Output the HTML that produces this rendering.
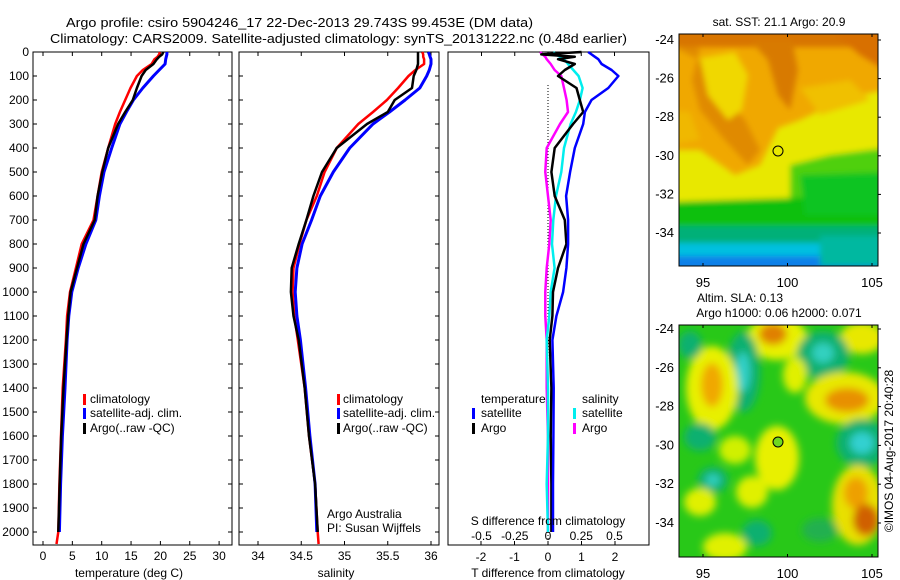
<!DOCTYPE html>
<html><head><meta charset="utf-8">
<style>
html,body{margin:0;padding:0;background:#fff;}
svg{display:block;font-family:"Liberation Sans",sans-serif;}
text{font-size:12px;fill:#000;}
</style></head>
<body>
<svg id="fig" width="900" height="580" viewBox="0 0 900 580" xmlns="http://www.w3.org/2000/svg">
<defs>
<filter id="blur3" x="-20%" y="-20%" width="140%" height="140%"><feGaussianBlur stdDeviation="3"/></filter>
<filter id="blur6" x="-30%" y="-30%" width="160%" height="160%"><feGaussianBlur stdDeviation="4"/></filter>
<clipPath id="clipMap1"><rect x="679" y="34" width="199" height="232"/></clipPath>
<clipPath id="clipMap2"><rect x="679" y="325" width="199" height="232"/></clipPath>
</defs>
<text x="66" y="27" textLength="467" lengthAdjust="spacingAndGlyphs" style="font-size:13px">Argo profile: csiro 5904246_17 22-Dec-2013 29.743S 99.453E (DM data)</text>
<text x="50" y="43" textLength="577" lengthAdjust="spacingAndGlyphs" style="font-size:13px">Climatology: CARS2009. Satellite-adjusted climatology: synTS_20131222.nc (0.48d earlier)</text>

<g id="p1"></g>
<g id="p2"></g>
<g id="p3"></g>

<!-- SST map -->
<g>
<text x="779" y="26" text-anchor="middle">sat. SST: 21.1 Argo: 20.9</text>
<g clip-path="url(#clipMap1)">
<rect x="679" y="34" width="199" height="232" fill="#f0a800"/>
<g filter="url(#blur3)">
<rect x="670" y="25" width="220" height="22" fill="#d87400"/>
<path d="M670 45 L700 48 L692 80 L700 110 L725 140 L748 165 L760 150 L745 120 L722 95 L700 60 Z" fill="#e08a00"/>
<path d="M750 40 L792 40 L798 70 L790 110 L778 95 L768 60 Z" fill="#d87a00"/>
<path d="M835 34 L885 34 L885 70 L860 55 Z" fill="#d87000"/>
<path d="M700 58 L735 52 L748 75 L742 110 L728 120 L708 95 Z" fill="#f0d800"/>
<path d="M670 150 L700 150 L735 175 L760 165 L778 128 L800 120 L825 108 L860 95 L885 90 L885 150 L840 162 L800 178 L792 212 L670 212 Z" fill="#e8e800"/>
<path d="M800 88 L850 80 L870 100 L820 115 Z" fill="#f0c000"/>
<path d="M670 110 L690 112 L700 140 L670 145 Z" fill="#f0b800"/>
<path d="M790 165 L830 155 L885 148 L885 205 L790 212 Z" fill="#50d010"/>
<path d="M670 202 L885 195 L885 235 L670 235 Z" fill="#10c010"/>
<path d="M800 175 L885 172 L885 215 L805 215 Z" fill="#10c420"/>
<rect x="670" y="226" width="220" height="20" fill="#00b078"/>
<rect x="670" y="243" width="220" height="14" fill="#00c0e0"/>
<rect x="670" y="256" width="220" height="15" fill="#1080e8"/>
<rect x="820" y="236" width="70" height="30" fill="#00b8a0"/>
</g>
</g>
<rect x="679" y="34" width="199" height="232" fill="none" stroke="#000"/>
<circle cx="778" cy="151" r="5" fill="none" stroke="#000"/>
<g id="map1ax"></g>
</g>

<!-- SLA map -->
<g>
<text x="740" y="302" text-anchor="middle">Altim. SLA: 0.13</text>
<text x="779" y="317" text-anchor="middle">Argo h1000: 0.06 h2000: 0.071</text>
<g clip-path="url(#clipMap2)">
<rect x="679" y="325" width="199" height="232" fill="#28c818"/>
<g filter="url(#blur6)">
<ellipse cx="777" cy="338" rx="30" ry="22" fill="#e8f000"/>
<ellipse cx="773" cy="334" rx="14" ry="11" fill="#e08000"/>
<ellipse cx="862" cy="338" rx="22" ry="16" fill="#e8e800"/>
<ellipse cx="823" cy="355" rx="26" ry="24" fill="#10b070"/>
<ellipse cx="823" cy="353" rx="11" ry="10" fill="#30d0c0"/>
<ellipse cx="743" cy="372" rx="17" ry="40" fill="#10b070"/>
<ellipse cx="743" cy="372" rx="7" ry="20" fill="#30d0c8"/>
<ellipse cx="712" cy="388" rx="26" ry="42" fill="#e8f000"/>
<ellipse cx="712" cy="385" rx="11" ry="22" fill="#f0a800"/>
<ellipse cx="795" cy="375" rx="12" ry="18" fill="#e0f000"/>
<ellipse cx="845" cy="398" rx="40" ry="26" fill="#e8e800"/>
<ellipse cx="847" cy="400" rx="22" ry="12" fill="#e89000"/>
<ellipse cx="862" cy="443" rx="26" ry="24" fill="#10b070"/>
<ellipse cx="862" cy="443" rx="12" ry="11" fill="#30d0d0"/>
<ellipse cx="700" cy="437" rx="16" ry="14" fill="#10b070"/>
<ellipse cx="777" cy="458" rx="22" ry="32" fill="#e8f000"/>
<ellipse cx="735" cy="450" rx="16" ry="14" fill="#d0f000"/>
<ellipse cx="713" cy="480" rx="15" ry="13" fill="#10b070"/>
<ellipse cx="713" cy="480" rx="7" ry="6" fill="#30d0c0"/>
<ellipse cx="752" cy="492" rx="16" ry="16" fill="#e0f000"/>
<ellipse cx="700" cy="502" rx="16" ry="14" fill="#e0f000"/>
<ellipse cx="858" cy="505" rx="26" ry="40" fill="#e8e000"/>
<ellipse cx="856" cy="493" rx="12" ry="16" fill="#eea000"/>
<ellipse cx="866" cy="520" rx="13" ry="16" fill="#d06000"/>
<ellipse cx="757" cy="533" rx="15" ry="13" fill="#10b070"/>
<ellipse cx="725" cy="547" rx="22" ry="14" fill="#e0f000"/>
<ellipse cx="820" cy="530" rx="18" ry="12" fill="#20b050"/>
<ellipse cx="690" cy="345" rx="12" ry="14" fill="#10b070"/>
</g>
</g>
<rect x="679" y="325" width="199" height="232" fill="none" stroke="#000"/>
<circle cx="778" cy="442" r="5" fill="#70d820" stroke="#000"/>
<g id="map2ax"></g>
<text transform="translate(893,451) rotate(-90)" text-anchor="middle">©IMOS 04-Aug-2017 20:40:28</text>
</g>
</svg>
<script>
// ---- data ----
const depths = [0,10,20,30,50,75,100,150,200,250,300,400,500,600,700,800,900,1000,1100,1200,1400,1600,1800,2000];
const depthsClim = [0,10,20,30,50,75,100,150,200,250,300,400,500,600,700,800,900,1000,1100,1200,1400,1600,1800,2000,2050];
const tempClim = [19.9,19.8,19.5,19.0,18.5,17.0,16.0,14.9,14.0,13.1,12.3,11.1,10.0,9.3,8.6,6.6,5.6,4.6,4.1,3.9,3.35,3.07,2.8,2.6,2.3];
const tempSat = [21.1,21.1,21.0,20.9,20.8,19.8,18.8,17.0,15.4,14.2,13.1,11.7,10.4,9.6,9.0,7.3,6.0,4.9,4.4,4.1,3.75,3.3,3.0,2.8];
const tempArgo = [20.5,20.3,19.8,19.4,18.8,17.5,16.8,16.0,15.3,14.0,12.8,11.1,10.1,9.3,8.8,6.9,5.8,4.7,4.3,4.0,3.5,3.1,2.85,2.6];
const salClim = [35.90,35.91,35.91,35.92,35.92,35.82,35.74,35.62,35.49,35.33,35.16,34.91,34.77,34.68,34.56,34.48,34.41,34.40,34.42,34.46,34.54,34.59,34.66,34.69,34.70];
const salSat = [35.97,35.98,35.99,36.0,36.0,35.98,35.95,35.87,35.70,35.52,35.33,35.06,34.87,34.72,34.62,34.51,34.45,34.43,34.45,34.49,34.55,34.60,34.66,34.68];
const salArgo = [35.85,35.85,35.85,35.85,35.85,35.83,35.80,35.78,35.58,35.50,35.26,34.91,34.74,34.64,34.56,34.47,34.39,34.38,34.41,34.47,34.54,34.59,34.66,34.69];
const dTSat = [1.2,1.3,1.4,1.5,1.6,1.9,2.1,1.8,1.3,1.1,1.05,0.8,0.66,0.54,0.6,0.6,0.55,0.45,0.25,0.13,0.17,0.16,0.15,0.15];
const dTArgo = [1.0,-0.2,0.8,0.3,0.8,0.5,0.3,0.85,0.95,1.05,0.75,0.2,0.1,0.2,0.5,0.55,0.3,0.15,0.13,0.05,0.1,0.08,0.1,0.1];
const dSSat = [0.04,0.06,0.09,0.12,0.15,0.19,0.23,0.26,0.24,0.21,0.17,0.12,0.1,0.06,0.04,0.03,0.05,0.02,0.01,-0.01,0,0,-0.01,0];
const dSArgo = [-0.06,-0.04,-0.02,-0.01,0.02,0.05,0.1,0.12,0.14,0.15,0.09,-0.01,-0.02,0,0.02,0.01,-0.01,-0.02,-0.02,-0.01,-0.01,0,0,0];
const depthTicks = [0,100,200,300,400,500,600,700,800,900,1000,1100,1200,1300,1400,1500,1600,1700,1800,1900,2000];
const tempTicks = [0,5,10,15,20,25,30];
const salTicks = [34,34.5,35,35.5,36];
const salTickLabels = ["34","34.5","35","35.5","36"];
const dTTicks = [-2,-1,0,1,2];
const dSTicks = [-0.5,-0.25,0,0.25,0.5];
const dSTickLabels = ["-0.5","-0.25","0","0.25","0.5"];
const lonTicks = [95,100,105];
const latTicks = [-24,-26,-28,-30,-32,-34];

// ---- geometry ----
const TOP = 52, BOT = 545;
const yD = d => TOP + d * 0.24;
const NS = 'http://www.w3.org/2000/svg';
function mk(parent, tag, attrs) {
  const e = document.createElementNS(NS, tag);
  for (const k in attrs) e.setAttribute(k, attrs[k]);
  parent.appendChild(e);
  return e;
}
function txt(parent, x, y, s, anchor) {
  const t = mk(parent, 'text', {x: x, y: y, 'text-anchor': anchor || 'start'});
  t.textContent = s;
  return t;
}
function frame(g, L, R, name) {
  const r = mk(g, 'rect', {x: L, y: TOP, width: R - L, height: BOT - TOP, fill: 'none', stroke: '#000'});
  
  
}
function depthAxis(g, L, R, labels) {
  depthTicks.forEach(d => {
    const y = yD(d);
    mk(g, 'line', {x1: L, x2: L + 4, y1: y, y2: y, stroke: '#000'});
    mk(g, 'line', {x1: R - 4, x2: R, y1: y, y2: y, stroke: '#000'});
    if (labels) {
      const t = txt(g, 29, y + 4, String(d), 'end');
      
      
    }
  });
}
function line(g, xs, ds, xf, color, w, name) {
  const pts = xs.map((v, i) => xf(v).toFixed(1) + ',' + yD(ds[i]).toFixed(1)).join(' ');
  const p = mk(g, 'polyline', {points: pts, fill: 'none', stroke: color, 'stroke-width': w, 'stroke-linejoin': 'round'});
  
  
}
function legendSwatch(g, x, y, color) {
  mk(g, 'rect', {x: x, y: y - 9, width: 3, height: 11, fill: color});
}

// Panel 1: temperature
const p1 = document.getElementById('p1');
const xT = t => 43 + t * 5.87;
frame(p1, 33, 232, 'temperature-axes-frame');
depthAxis(p1, 33, 232, true);
tempTicks.forEach(t => {
  const x = xT(t);
  mk(p1, 'line', {x1: x, x2: x, y1: TOP, y2: TOP + 4, stroke: '#000'});
  mk(p1, 'line', {x1: x, x2: x, y1: BOT - 4, y2: BOT, stroke: '#000'});
  const l = txt(p1, x, 560, String(t), 'middle');
  
  
});
line(p1, tempClim, depthsClim, xT, '#f00', 2.5, 'temperature-climatology-line');
line(p1, tempSat, depths, xT, '#00f', 3, 'temperature-satellite-line');
line(p1, tempArgo, depths, xT, '#000', 2.5, 'temperature-argo-line');
{
  const t = txt(p1, 129, 577, 'temperature (deg C)', 'middle');
  
  
  const lg = mk(p1, 'g', {});
  
  
  legendSwatch(lg, 83, 403, '#f00'); txt(lg, 90, 403, 'climatology');
  legendSwatch(lg, 83, 417, '#00f'); txt(lg, 90, 417, 'satellite-adj. clim.');
  legendSwatch(lg, 83, 432, '#000'); txt(lg, 90, 432, 'Argo(..raw -QC)');
}

// Panel 2: salinity
const p2 = document.getElementById('p2');
const xS = s => 258 + (s - 34) * 86.5;
frame(p2, 239, 439, 'salinity-axes-frame');
depthAxis(p2, 239, 439, false);
salTicks.forEach((s, i) => {
  const x = xS(s);
  mk(p2, 'line', {x1: x, x2: x, y1: TOP, y2: TOP + 4, stroke: '#000'});
  mk(p2, 'line', {x1: x, x2: x, y1: BOT - 4, y2: BOT, stroke: '#000'});
  const l = txt(p2, x, 560, salTickLabels[i], 'middle');
  
  
});
line(p2, salClim, depthsClim, xS, '#f00', 2.5, 'salinity-climatology-line');
line(p2, salSat, depths, xS, '#00f', 3, 'salinity-satellite-line');
line(p2, salArgo, depths, xS, '#000', 2.5, 'salinity-argo-line');
{
  const t = txt(p2, 336, 577, 'salinity', 'middle');
  
  
  const lg = mk(p2, 'g', {});
  
  
  legendSwatch(lg, 337, 403, '#f00'); txt(lg, 343, 403, 'climatology');
  legendSwatch(lg, 337, 417, '#00f'); txt(lg, 343, 417, 'satellite-adj. clim.');
  legendSwatch(lg, 337, 432, '#000'); txt(lg, 343, 432, 'Argo(..raw -QC)');
  const a = txt(p2, 327, 518, 'Argo Australia');
  
  
  const b = txt(p2, 327, 532, 'PI: Susan Wijffels');
  
  
}

// Panel 3: differences
const p3 = document.getElementById('p3');
const xdT = v => 548 + v * 33.5;
const xdS = v => 548 + v * 133;
frame(p3, 448, 649, 'difference-axes-frame');
mk(p3, 'line', {x1: 548, x2: 548, y1: 85, y2: BOT, stroke: '#000', 'stroke-dasharray': '1,2'});
dSTicks.forEach((v, i) => {
  const x = xdS(v);
  mk(p3, 'line', {x1: x, x2: x, y1: TOP, y2: TOP + 4, stroke: '#000'});
  const l = txt(p3, x, 540, dSTickLabels[i], 'middle');
  
  
});
dTTicks.forEach(v => {
  const x = xdT(v);
  mk(p3, 'line', {x1: x, x2: x, y1: BOT - 4, y2: BOT, stroke: '#000'});
  const l = txt(p3, x, 561, String(v), 'middle');
  
  
});
line(p3, dSArgo, depths, xdS, '#f0f', 2.5, 'salinity-argo-difference-line');
line(p3, dSSat, depths, xdS, '#0ee', 2.5, 'salinity-satellite-difference-line');
line(p3, dTArgo, depths, xdT, '#000', 2.5, 'temperature-argo-difference-line');
line(p3, dTSat, depths, xdT, '#00f', 2.5, 'temperature-satellite-difference-line');
{
  const s = txt(p3, 548, 525, 'S difference from climatology', 'middle');
  
  
  const t = txt(p3, 548, 577, 'T difference from climatology', 'middle');
  
  
  const lg = mk(p3, 'g', {});
  
  
  txt(lg, 481, 403, 'temperature');
  legendSwatch(lg, 472, 417, '#00f'); txt(lg, 481, 417, 'satellite');
  legendSwatch(lg, 472, 432, '#000'); txt(lg, 481, 432, 'Argo');
  txt(lg, 582, 403, 'salinity');
  legendSwatch(lg, 573, 417, '#0ee'); txt(lg, 582, 417, 'satellite');
  legendSwatch(lg, 573, 432, '#f0f'); txt(lg, 582, 432, 'Argo');
}

// Map axes
function mapAxes(id, top, lat24y, lat34y, bottom) {
  const g = document.getElementById(id);
  const xLon = lon => 703 + (lon - 95) * 16.9;
  const yLat = lat => lat24y + (-24 - lat) * (lat34y - lat24y) / 10;
  lonTicks.forEach(lon => {
    const x = xLon(lon);
    mk(g, 'line', {x1: x, x2: x, y1: bottom, y2: bottom - 3, stroke: '#000'});
    mk(g, 'line', {x1: x, x2: x, y1: top, y2: top + 3, stroke: '#000'});
    const l = txt(g, x, bottom + 21, String(lon), 'middle');
    
    
  });
  latTicks.forEach(lat => {
    const y = yLat(lat);
    mk(g, 'line', {x1: 878, x2: 881, y1: y, y2: y, stroke: '#000'});
    const l = txt(g, 674, y + 4, String(lat), 'end');
    
    
  });
  g.querySelectorAll('text').forEach(t => t.style.fontSize = '13px');
}
mapAxes('map1ax', 34, 40, 233, 266);
mapAxes('map2ax', 325, 329, 523, 557);
</script>
</body></html>
